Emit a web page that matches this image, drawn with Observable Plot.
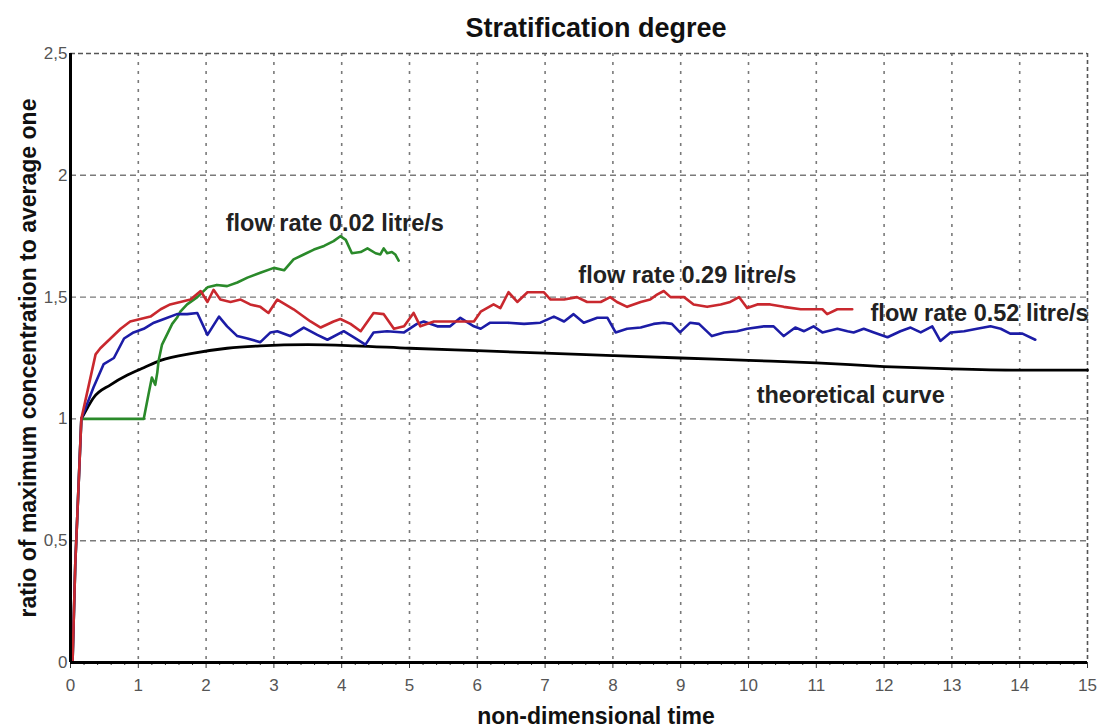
<!DOCTYPE html>
<html>
<head>
<meta charset="utf-8">
<script src="https://cdn.jsdelivr.net/npm/d3@7"></script>
<script src="https://cdn.jsdelivr.net/npm/@observablehq/plot@0.6"></script>
<style>
  html, body { margin: 0; padding: 0; background: #fff; }
</style>
</head>
<body>
<div id="chart"></div>
<script>
// ---- data ----
const xTicks = [0,1,2,3,4,5,6,7,8,9,10,11,12,13,14,15];
const yTicks = [0, 0.5, 1, 1.5, 2, 2.5];

const theoretical = [
  [0.16,1.0],[0.25,1.046],[0.34,1.087],[0.59,1.14],[0.84,1.18],[1.08,1.21],[1.33,1.24],
  [1.82,1.27],[2.31,1.29],[2.8,1.30],[3.5,1.305],[4.2,1.30],[5,1.29],[6,1.28],[7,1.27],
  [8,1.26],[9,1.25],[10,1.24],[11,1.23],[12,1.215],[13,1.205],[14,1.20],[15,1.20]
];

const flow029 = [
  [0.03,0],[0.05,0.2],[0.07,0.4],[0.10,0.6],[0.13,0.8],[0.16,1.0],
  [0.37,1.265],[0.44,1.29],[0.59,1.33],[0.74,1.37],[0.88,1.40],[1.03,1.41],[1.18,1.42],
  [1.33,1.45],[1.47,1.47],[1.62,1.48],[1.77,1.49],[1.92,1.525],[2.02,1.48],[2.11,1.53],
  [2.21,1.49],[2.36,1.48],[2.51,1.49],[2.65,1.47],[2.80,1.46],[2.92,1.435],[3.05,1.49],
  [3.29,1.45],[3.54,1.40],[3.69,1.375],[3.88,1.40],[3.98,1.41],[4.13,1.39],[4.28,1.36],
  [4.47,1.435],[4.62,1.43],[4.77,1.37],[4.92,1.38],[5.06,1.435],[5.16,1.38],[5.36,1.40],
  [5.56,1.40],[5.75,1.40],[5.95,1.40],[6.05,1.44],[6.24,1.47],[6.34,1.455],[6.46,1.52],
  [6.59,1.48],[6.74,1.52],[6.98,1.52],[7.08,1.49],[7.28,1.49],[7.47,1.50],[7.62,1.48],
  [7.82,1.48],[7.96,1.50],[8.06,1.48],[8.21,1.46],[8.41,1.48],[8.55,1.49],[8.65,1.51],
  [8.75,1.525],[8.85,1.50],[9.05,1.50],[9.19,1.47],[9.39,1.46],[9.59,1.47],[9.73,1.48],
  [9.86,1.50],[9.98,1.455],[10.13,1.47],[10.32,1.47],[10.52,1.46],[10.77,1.45],
  [10.96,1.45],[11.09,1.45],[11.16,1.43],[11.31,1.45],[11.53,1.45]
];

const flow052 = [
  [0.03,0],[0.05,0.2],[0.07,0.4],[0.10,0.6],[0.13,0.8],[0.16,1.0],
  [0.34,1.13],[0.49,1.225],[0.64,1.25],[0.79,1.33],[0.93,1.355],[1.08,1.37],[1.23,1.395],
  [1.38,1.41],[1.57,1.43],[1.72,1.43],[1.87,1.435],[2.02,1.345],[2.19,1.42],[2.31,1.38],
  [2.46,1.34],[2.61,1.33],[2.80,1.315],[2.95,1.355],[3.05,1.36],[3.24,1.34],[3.44,1.375],
  [3.64,1.345],[3.79,1.325],[4.03,1.36],[4.18,1.335],[4.35,1.305],[4.47,1.355],[4.67,1.36],
  [4.92,1.355],[5.11,1.39],[5.21,1.40],[5.41,1.38],[5.60,1.38],[5.75,1.415],[5.95,1.38],
  [6.05,1.37],[6.19,1.395],[6.44,1.395],[6.69,1.39],[6.93,1.395],[7.13,1.42],[7.28,1.40],
  [7.42,1.43],[7.57,1.395],[7.77,1.415],[7.92,1.415],[8.04,1.355],[8.21,1.37],[8.41,1.375],
  [8.60,1.39],[8.75,1.395],[8.87,1.39],[8.99,1.355],[9.14,1.395],[9.27,1.39],[9.46,1.34],
  [9.64,1.355],[9.83,1.36],[9.98,1.37],[10.23,1.38],[10.37,1.38],[10.52,1.34],[10.69,1.375],
  [10.82,1.36],[10.96,1.38],[11.09,1.355],[11.31,1.37],[11.46,1.36],[11.55,1.355],
  [11.70,1.37],[11.85,1.355],[12.05,1.335],[12.24,1.36],[12.39,1.375],[12.54,1.355],
  [12.71,1.38],[12.83,1.32],[12.98,1.355],[13.18,1.36],[13.37,1.37],[13.57,1.38],
  [13.72,1.37],[13.86,1.35],[14.04,1.35],[14.23,1.325]
];

const flow002 = [
  [0.03,0],[0.05,0.2],[0.07,0.4],[0.10,0.6],[0.13,0.8],[0.16,1.0],
  [1.08,1.0],[1.15,1.10],[1.20,1.17],[1.25,1.14],[1.28,1.19],[1.30,1.24],[1.35,1.305],
  [1.43,1.35],[1.50,1.39],[1.57,1.415],[1.62,1.44],[1.72,1.47],[1.87,1.50],[2.02,1.54],
  [2.16,1.55],[2.31,1.545],[2.46,1.56],[2.61,1.58],[2.80,1.60],[3.0,1.62],[3.15,1.61],
  [3.29,1.655],[3.44,1.675],[3.59,1.695],[3.74,1.71],[3.88,1.73],[3.98,1.75],[4.06,1.735],
  [4.15,1.68],[4.28,1.685],[4.38,1.70],[4.50,1.68],[4.57,1.675],[4.62,1.70],[4.67,1.68],
  [4.74,1.685],[4.79,1.675],[4.84,1.65]
];

const seriesLabels = ["flow rate 0.02 litre/s", "flow rate 0.29 litre/s", "flow rate 0.52 litre/s", "theoretical curve"];
const labelX = [2.29, 7.49, 11.80, 10.12];
const labelY = [1.803, 1.59, 1.434, 1.098];

const titleText = "Stratification degree";
const xLabel = "non-dimensional time";
const yLabel = "ratio of maximum concentration to average one";

// ---- build ----
const labels = seriesLabels.map((t, i) => ({t, x: labelX[i], y: labelY[i]}));
const minorTicks = d3.range(0, 76).map(i => i * 0.2).filter(v => Math.abs(v - Math.round(v)) > 1e-6);
const fmt = d => String(d).replace(".", ",");
const FONT = "'Liberation Sans', Arial, sans-serif";

const chart = Plot.plot({
  width: 1100,
  height: 727,
  marginLeft: 70,
  marginRight: 13,
  marginTop: 53,
  marginBottom: 65,
  style: {fontFamily: FONT, background: "#fff", overflow: "visible"},
  x: {domain: [0, 15]},
  y: {domain: [0, 2.5]},
  marks: [
    Plot.gridX(xTicks.filter(d => d > 0 && d < 15), {stroke: "#7a7a7a", strokeOpacity: 1, strokeWidth: 1.6, strokeDasharray: "3,6"}),
    Plot.gridY(yTicks.filter(d => d > 0 && d < 2.5), {stroke: "#7a7a7a", strokeOpacity: 1, strokeWidth: 1.4, strokeDasharray: "6,4"}),
    Plot.ruleY([2.5], {stroke: "#555", strokeWidth: 1.6, strokeDasharray: "5,3"}),
    Plot.ruleX([15], {stroke: "#555", strokeWidth: 1.6, strokeDasharray: "4,3"}),
    Plot.axisX({ticks: xTicks, tickFormat: d => d, tickSize: 6, tickPadding: 10, fontSize: 17, color: "#555", stroke: "#333", label: null}),
    Plot.axisX({ticks: minorTicks, tickFormat: () => "", tickSize: 3, stroke: "#333", label: null}),
    Plot.axisY({ticks: yTicks, tickFormat: fmt, tickSize: 0, tickPadding: 3, fontSize: 17, color: "#555", label: null}),
    Plot.line(theoretical, {x: d => d[0], y: d => d[1], stroke: "#000", strokeWidth: 2.8, curve: "monotone-x"}),
    Plot.line(flow002, {x: d => d[0], y: d => d[1], stroke: "#2a8a2a", strokeWidth: 2.6}),
    Plot.line(flow052, {x: d => d[0], y: d => d[1], stroke: "#1c1ca6", strokeWidth: 2.6}),
    Plot.line(flow029, {x: d => d[0], y: d => d[1], stroke: "#c9282e", strokeWidth: 2.6}),
    Plot.ruleX([0], {stroke: "#000", strokeWidth: 3}),
    Plot.ruleY([0], {stroke: "#000", strokeWidth: 3}),
    Plot.text(labels, {x: "x", y: "y", text: "t", textAnchor: "start", fontSize: 23.5, fontWeight: "bold", fill: "#222"}),
    Plot.text([titleText], {frameAnchor: "top", textAnchor: "middle", lineAnchor: "middle", dx: 17, dy: -25, fontSize: 27, fontWeight: "bold", fill: "#111"}),
    Plot.text([xLabel], {frameAnchor: "bottom", textAnchor: "middle", lineAnchor: "middle", dx: 17, dy: 54, fontSize: 23, fontWeight: "bold", fill: "#111"}),
    Plot.text([yLabel], {frameAnchor: "left", textAnchor: "middle", lineAnchor: "middle", dx: -42, rotate: -90, fontSize: 23, fontWeight: "bold", fill: "#111"})
  ]
});
document.getElementById("chart").appendChild(chart);
</script>
</body>
</html>
